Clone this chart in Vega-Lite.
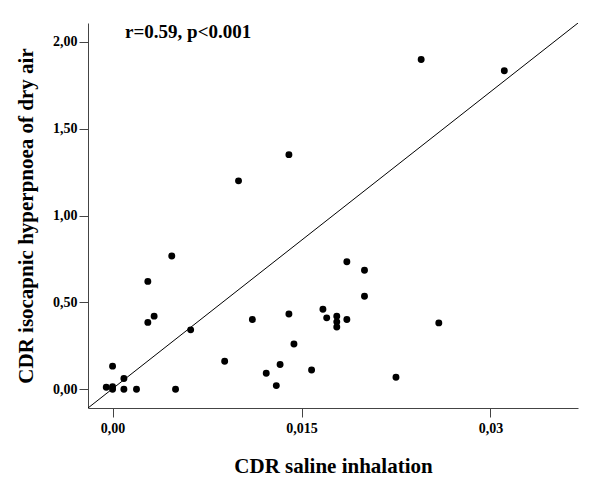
{
  "$schema": "https://vega.github.io/schema/vega-lite/v6.json",
  "autosize": {"type": "none"},
  "padding": {"left": 88, "top": 23, "right": 21, "bottom": 78},
  "width": 490,
  "height": 385,
  "background": "white",
  "config": {
    "view": {"stroke": null},
    "font": "Liberation Serif",
    "axis": {
      "grid": false,
      "domainColor": "#444444",
      "tickColor": "#444444",
      "domainWidth": 1,
      "tickWidth": 1,
      "tickSize": 9,
      "labelFont": "Liberation Serif",
      "labelFontWeight": "bold",
      "labelFontSize": 14,
      "labelColor": "black",
      "titleFont": "Liberation Serif",
      "titleFontWeight": "bold",
      "titleFontSize": 21,
      "titleColor": "black"
    }
  },
  "datasets": {
    "points": [
      {"saline": 0.0000, "dryair": 0.133},
      {"saline": -0.0005, "dryair": 0.012},
      {"saline": 0.0000, "dryair": 0.015},
      {"saline": 0.0000, "dryair": 0.000},
      {"saline": 0.0009, "dryair": 0.062},
      {"saline": 0.0009, "dryair": 0.000},
      {"saline": 0.0019, "dryair": 0.000},
      {"saline": 0.0050, "dryair": 0.000},
      {"saline": 0.0047, "dryair": 0.767},
      {"saline": 0.0028, "dryair": 0.621},
      {"saline": 0.0033, "dryair": 0.421},
      {"saline": 0.0028, "dryair": 0.385},
      {"saline": 0.0062, "dryair": 0.342},
      {"saline": 0.0089, "dryair": 0.161},
      {"saline": 0.0100, "dryair": 1.200},
      {"saline": 0.0140, "dryair": 1.351},
      {"saline": 0.0111, "dryair": 0.402},
      {"saline": 0.0140, "dryair": 0.433},
      {"saline": 0.0144, "dryair": 0.261},
      {"saline": 0.0133, "dryair": 0.142},
      {"saline": 0.0122, "dryair": 0.092},
      {"saline": 0.0130, "dryair": 0.021},
      {"saline": 0.0158, "dryair": 0.111},
      {"saline": 0.0167, "dryair": 0.461},
      {"saline": 0.0170, "dryair": 0.411},
      {"saline": 0.0178, "dryair": 0.421},
      {"saline": 0.0178, "dryair": 0.388},
      {"saline": 0.0178, "dryair": 0.358},
      {"saline": 0.0186, "dryair": 0.402},
      {"saline": 0.0186, "dryair": 0.734},
      {"saline": 0.0200, "dryair": 0.685},
      {"saline": 0.0200, "dryair": 0.535},
      {"saline": 0.0225, "dryair": 0.069},
      {"saline": 0.0259, "dryair": 0.382},
      {"saline": 0.0245, "dryair": 1.899},
      {"saline": 0.0311, "dryair": 1.834}
    ],
    "refline": [
      {"saline": -0.00195, "dryair": -0.108},
      {"saline": 0.03695, "dryair": 2.109}
    ],
    "note": [
      {"saline": 0.0060, "dryair": 2.024, "label": "r=0.59, p<0.001"}
    ]
  },
  "layer": [
    {
      "data": {"name": "refline"},
      "mark": {"type": "line", "color": "black", "strokeWidth": 1, "clip": true},
      "encoding": {
        "x": {"field": "saline", "type": "quantitative"},
        "y": {"field": "dryair", "type": "quantitative"}
      }
    },
    {
      "data": {"name": "points"},
      "mark": {"type": "circle", "color": "black", "opacity": 1, "size": 48},
      "encoding": {
        "x": {
          "field": "saline",
          "type": "quantitative",
          "title": "CDR saline inhalation",
          "scale": {"domain": [-0.00195, 0.03695], "nice": false, "zero": false},
          "axis": {
            "values": [0, 0.015, 0.03],
            "labelExpr": "datum.value == 0 ? '0,00' : replace(format(datum.value, '.3~f'), '.', ',')",
            "labelPadding": 4,
            "titlePadding": 20
          }
        },
        "y": {
          "field": "dryair",
          "type": "quantitative",
          "title": "CDR isocapnic hyperpnoea of dry air",
          "scale": {"domain": [-0.108, 2.109], "nice": false, "zero": false},
          "axis": {
            "values": [0, 0.5, 1, 1.5, 2],
            "labelExpr": "replace(format(datum.value, '.2f'), '.', ',')",
            "labelPadding": 2,
            "titlePadding": 16
          }
        }
      }
    },
    {
      "data": {"name": "note"},
      "mark": {"type": "text", "font": "Liberation Serif", "fontWeight": "bold", "fontSize": 19, "align": "center", "baseline": "alphabetic", "color": "black"},
      "encoding": {
        "x": {"field": "saline", "type": "quantitative"},
        "y": {"field": "dryair", "type": "quantitative"},
        "text": {"field": "label"}
      }
    }
  ]
}
